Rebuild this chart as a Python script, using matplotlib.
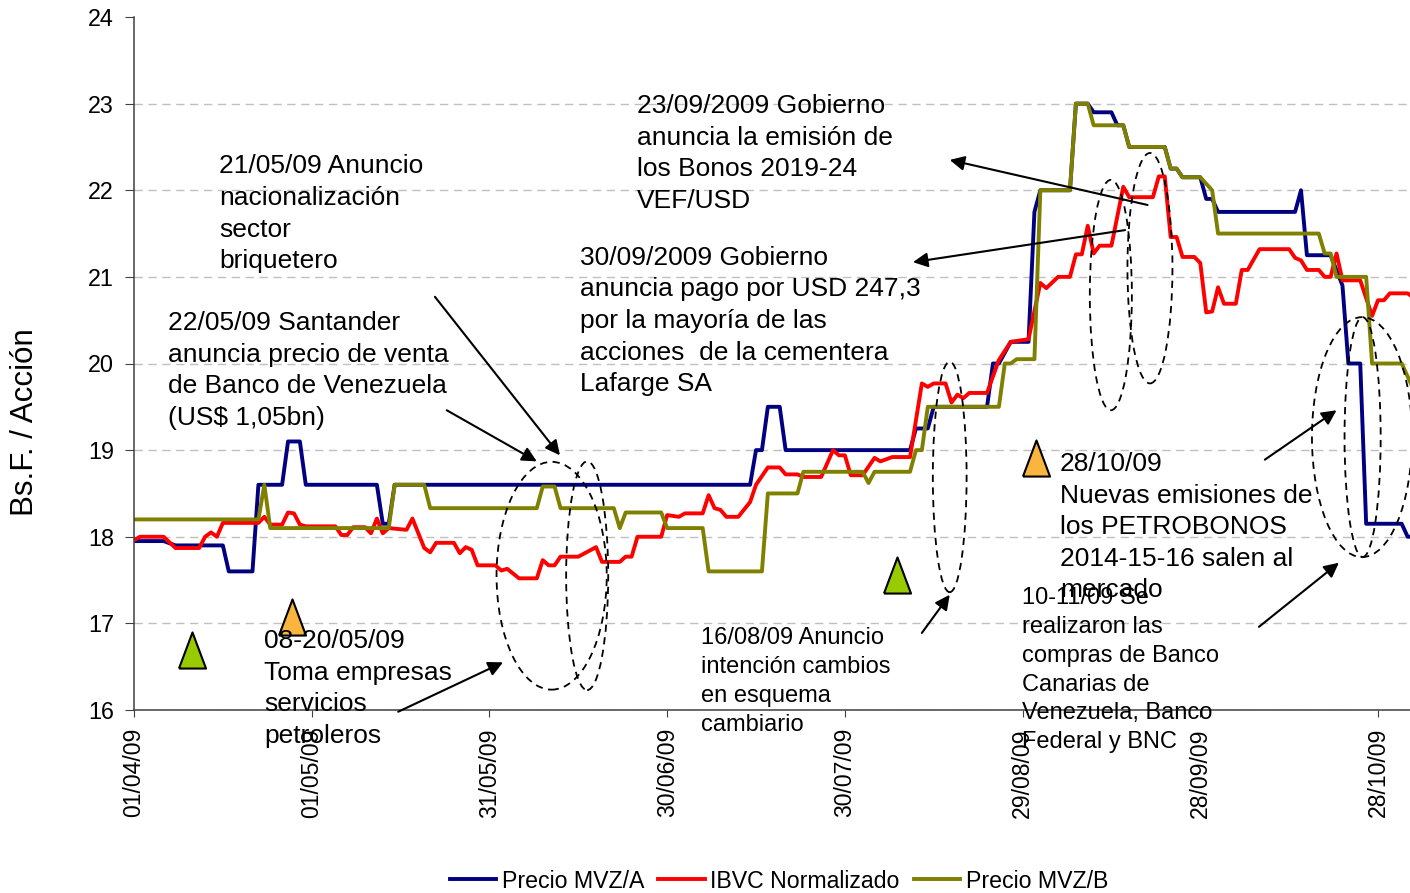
import numpy as np
import pandas as pd
import matplotlib
matplotlib.use("Agg")
import matplotlib.pyplot as plt
import matplotlib.dates as mdates
from matplotlib.patches import Ellipse

plt.rcParams['font.family'] = ['Liberation Sans', 'DejaVu Sans']

# Precio MVZ/A (Bs.F. por acción)
fechas_a = ["2009-04-01", "2009-04-06", "2009-04-08", "2009-04-16", "2009-04-17", "2009-04-21",
            "2009-04-22", "2009-04-26", "2009-04-27", "2009-04-29", "2009-04-30", "2009-05-12",
            "2009-05-13", "2009-05-14", "2009-05-15", "2009-07-14", "2009-07-15", "2009-07-16",
            "2009-07-17", "2009-07-19", "2009-07-20", "2009-08-10", "2009-08-11", "2009-08-13",
            "2009-08-14", "2009-08-23", "2009-08-24", "2009-08-25", "2009-08-27", "2009-08-30",
            "2009-08-31", "2009-09-01", "2009-09-06", "2009-09-07", "2009-09-09", "2009-09-10",
            "2009-09-13", "2009-09-14", "2009-09-15", "2009-09-16", "2009-09-22", "2009-09-23",
            "2009-09-24", "2009-09-25", "2009-09-28", "2009-09-29", "2009-09-30", "2009-10-01",
            "2009-10-14", "2009-10-15", "2009-10-16", "2009-10-20", "2009-10-22", "2009-10-23",
            "2009-10-25", "2009-10-26", "2009-11-01", "2009-11-02", "2009-11-03"]
precio_a = [17.95, 17.95, 17.9, 17.9, 17.6, 17.6,
            18.6, 18.6, 19.1, 19.1, 18.6, 18.6,
            18.15, 18.15, 18.6, 18.6, 19.0, 19.0,
            19.5, 19.5, 19.0, 19.0, 19.25, 19.25,
            19.5, 19.5, 20.0, 20.0, 20.25, 20.25,
            21.75, 22.0, 22.0, 23.0, 23.0, 22.9,
            22.9, 22.75, 22.75, 22.5, 22.5, 22.25,
            22.25, 22.15, 22.15, 21.9, 21.9, 21.75,
            21.75, 22.0, 21.25, 21.25, 20.9, 20.0,
            20.0, 18.15, 18.15, 18.0, 18.0]

# IBVC normalizado
fechas_ibvc = ["2009-04-01", "2009-04-02", "2009-04-06", "2009-04-08", "2009-04-12", "2009-04-13",
               "2009-04-14", "2009-04-15", "2009-04-16", "2009-04-22", "2009-04-23", "2009-04-24",
               "2009-04-26", "2009-04-27", "2009-04-28", "2009-04-29", "2009-04-30", "2009-05-05",
               "2009-05-06", "2009-05-07", "2009-05-08", "2009-05-10", "2009-05-11", "2009-05-12",
               "2009-05-13", "2009-05-14", "2009-05-17", "2009-05-18", "2009-05-20", "2009-05-21",
               "2009-05-22", "2009-05-25", "2009-05-26", "2009-05-27", "2009-05-28", "2009-05-29",
               "2009-06-01", "2009-06-02", "2009-06-03", "2009-06-05", "2009-06-08", "2009-06-09",
               "2009-06-10", "2009-06-11", "2009-06-12", "2009-06-15", "2009-06-18", "2009-06-19",
               "2009-06-22", "2009-06-23", "2009-06-24", "2009-06-25", "2009-06-29", "2009-06-30",
               "2009-07-02", "2009-07-03", "2009-07-06", "2009-07-07", "2009-07-08", "2009-07-09",
               "2009-07-10", "2009-07-12", "2009-07-14", "2009-07-15", "2009-07-17", "2009-07-19",
               "2009-07-20", "2009-07-22", "2009-07-23", "2009-07-26", "2009-07-28", "2009-07-29",
               "2009-07-30", "2009-07-31", "2009-08-02", "2009-08-04", "2009-08-05", "2009-08-07",
               "2009-08-10", "2009-08-12", "2009-08-13", "2009-08-14", "2009-08-16", "2009-08-17",
               "2009-08-18", "2009-08-19", "2009-08-20", "2009-08-23", "2009-08-25", "2009-08-27",
               "2009-08-30", "2009-09-01", "2009-09-02", "2009-09-04", "2009-09-06", "2009-09-07",
               "2009-09-08", "2009-09-09", "2009-09-10", "2009-09-11", "2009-09-13", "2009-09-15",
               "2009-09-16", "2009-09-20", "2009-09-21", "2009-09-22", "2009-09-23", "2009-09-24",
               "2009-09-25", "2009-09-27", "2009-09-28", "2009-09-29", "2009-09-30", "2009-10-01",
               "2009-10-02", "2009-10-04", "2009-10-05", "2009-10-06", "2009-10-08", "2009-10-13",
               "2009-10-14", "2009-10-15", "2009-10-16", "2009-10-18", "2009-10-19", "2009-10-20",
               "2009-10-21", "2009-10-22", "2009-10-25", "2009-10-27", "2009-10-28", "2009-10-29",
               "2009-10-30", "2009-11-02", "2009-11-03"]
ibvc = [17.96, 18.0, 18.0, 17.87, 17.87, 18.0,
        18.05, 18.0, 18.16, 18.16, 18.23, 18.14,
        18.14, 18.28, 18.27, 18.14, 18.12, 18.12,
        18.02, 18.02, 18.11, 18.11, 18.04, 18.21,
        18.04, 18.1, 18.08, 18.21, 17.87, 17.82,
        17.93, 17.93, 17.81, 17.88, 17.85, 17.67,
        17.67, 17.61, 17.63, 17.52, 17.52, 17.73,
        17.67, 17.67, 17.77, 17.77, 17.88, 17.71,
        17.71, 17.77, 17.77, 18.0, 18.0, 18.25,
        18.23, 18.27, 18.27, 18.48, 18.33, 18.31,
        18.23, 18.23, 18.4, 18.6, 18.8, 18.8,
        18.72, 18.72, 18.69, 18.69, 19.0, 18.94,
        18.94, 18.71, 18.71, 18.91, 18.87, 18.92,
        18.92, 19.77, 19.73, 19.77, 19.77, 19.55,
        19.64, 19.6, 19.66, 19.66, 20.04, 20.25,
        20.28, 20.93, 20.87, 21.0, 21.0, 21.26,
        21.26, 21.59, 21.27, 21.36, 21.36, 22.04,
        21.92, 21.92, 22.16, 22.16, 21.46, 21.46,
        21.23, 21.23, 21.16, 20.59, 20.6, 20.88,
        20.69, 20.69, 21.08, 21.08, 21.32, 21.32,
        21.22, 21.19, 21.08, 21.08, 21.0, 21.0,
        21.27, 20.96, 20.96, 20.55, 20.73, 20.73,
        20.81, 20.81, 20.76]

# Precio MVZ/B
fechas_b = ["2009-04-01", "2009-04-22", "2009-04-23", "2009-04-24", "2009-05-14", "2009-05-15",
            "2009-05-20", "2009-05-21", "2009-06-08", "2009-06-09", "2009-06-11", "2009-06-12",
            "2009-06-21", "2009-06-22", "2009-06-23", "2009-06-29", "2009-06-30", "2009-07-06",
            "2009-07-07", "2009-07-16", "2009-07-17", "2009-07-22", "2009-07-23", "2009-08-02",
            "2009-08-03", "2009-08-04", "2009-08-10", "2009-08-11", "2009-08-12", "2009-08-13",
            "2009-08-25", "2009-08-26", "2009-08-27", "2009-08-28", "2009-08-31", "2009-09-01",
            "2009-09-06", "2009-09-07", "2009-09-09", "2009-09-10", "2009-09-15", "2009-09-16",
            "2009-09-22", "2009-09-23", "2009-09-24", "2009-09-25", "2009-09-28", "2009-09-30",
            "2009-10-01", "2009-10-18", "2009-10-19", "2009-10-20", "2009-10-21", "2009-10-26",
            "2009-10-27", "2009-11-01", "2009-11-03"]
precio_b = [18.2, 18.2, 18.6, 18.1, 18.1, 18.6,
            18.6, 18.33, 18.33, 18.58, 18.58, 18.33,
            18.33, 18.1, 18.28, 18.28, 18.1, 18.1,
            17.6, 17.6, 18.5, 18.5, 18.75, 18.75,
            18.62, 18.75, 18.75, 19.0, 19.0, 19.5,
            19.5, 20.0, 20.0, 20.05, 20.05, 22.0,
            22.0, 23.0, 23.0, 22.75, 22.75, 22.5,
            22.5, 22.25, 22.25, 22.15, 22.15, 22.0,
            21.5, 21.5, 21.27, 21.27, 21.0, 21.0,
            20.0, 20.0, 19.7]

tick_fechas = ["2009-04-01", "2009-05-01", "2009-05-31", "2009-06-30",
               "2009-07-30", "2009-08-29", "2009-09-28", "2009-10-28"]
tick_labels = ["01/04/09", "01/05/09", "31/05/09", "30/06/09",
               "30/07/09", "29/08/09", "28/09/09", "28/10/09"]

inicio = pd.Timestamp("2009-04-01")
base = mdates.date2num(inicio)


def dia(n):
    # posición en el eje x a partir de días desde el 01/04/09
    return base + n


fig = plt.figure(figsize=(14.1, 8.93), dpi=100)
ax = fig.add_axes([134 / 1410, 1 - 710 / 893, 1276 / 1410, 693 / 893])

la, = ax.plot(pd.to_datetime(fechas_a), precio_a, color='#000080', lw=2.8, label='Precio MVZ/A')
lr, = ax.plot(pd.to_datetime(fechas_ibvc), ibvc, color='#FF0000', lw=2.8, label='IBVC Normalizado')
lb, = ax.plot(pd.to_datetime(fechas_b), precio_b, color='#808000', lw=2.8, label='Precio MVZ/B')

ax.set_xlim(base, base + 215.4)
ax.set_ylim(16, 24)
ax.set_yticks(range(16, 25))
ax.set_xticks(pd.to_datetime(tick_fechas))
ax.set_xticklabels(tick_labels, rotation=90, fontsize=16.6)
ax.tick_params(axis='y', labelsize=16.8, length=6.5, pad=8, color='#404040')
ax.tick_params(axis='x', length=5, pad=8, color='#404040')

ax.grid(axis='y', color='#C0C0C0', linestyle=(0, (6, 4)), lw=1)
ax.get_ygridlines()[-1].set_visible(False)
for s in ['top', 'right']:
    ax.spines[s].set_visible(False)
for s in ['left', 'bottom']:
    ax.spines[s].set_color('#404040')
    ax.spines[s].set_linewidth(1.1)

ax.set_ylabel('Bs.F. / Acción', fontsize=22.5)
ax.yaxis.set_label_coords(-0.0737, 0.4156)

# triangulos
tri = [(-0.75, -1), (0.75, -1), (0, 1), (-0.75, -1)]
for x, y in [(9.8, 16.69), (128.8, 17.56)]:
    ax.plot(dia(x), y, marker=tri, ms=26, color='#99CC00', mec='black', mew=1.5, zorder=5, clip_on=False)
for x, y in [(26.75, 17.07), (152.2, 18.91)]:
    ax.plot(dia(x), y, marker=tri, ms=26, color='#F9B53D', mec='black', mew=1.5, zorder=5, clip_on=False)

# elipses punteadas
elipses = [(70.5, 17.55, 18.6, 2.63), (76.5, 17.55, 7.1, 2.64), (137.7, 18.69, 5.7, 2.66),
           (164.9, 20.79, 7.1, 2.66), (171.5, 21.10, 7.6, 2.66), (207.3, 19.15, 16.9, 2.77),
           (207.4, 19.15, 6.1, 2.77)]
for cx, cy, w, h in elipses:
    ax.add_patch(Ellipse((dia(cx), cy), w, h, fill=False, ec='black', lw=1.3,
                         ls=(0, (4, 3)), zorder=6, clip_on=False))

# flechas
flechas = [((50.8, 20.77), (71.9, 18.94)), ((52.8, 19.46), (68.0, 18.87)),
           ((44.6, 15.98), (62.3, 16.55)), ((171.1, 21.83), (137.7, 22.35)),
           ((167.3, 21.54), (131.5, 21.17)), ((133.0, 16.89), (137.7, 17.33)),
           ((190.9, 18.89), (203.0, 19.46)), ((189.9, 16.96), (203.4, 17.70))]
for (x0, y0), (x1, y1) in flechas:
    ax.annotate('', xy=(dia(x1), y1), xytext=(dia(x0), y0), annotation_clip=False,
                arrowprops=dict(arrowstyle='-|>', mutation_scale=22, lw=1.5, color='black',
                                shrinkA=0, shrinkB=0), zorder=7)

# textos (y = línea base de la última línea)
textos_grandes = [
    (14.35, 21.10, "21/05/09 Anuncio\nnacionalización\nsector\nbriquetero"),
    (5.74, 19.29, "22/05/09 Santander\nanuncia precio de venta\nde Banco de Venezuela\n(US$ 1,05bn)"),
    (21.94, 15.62, "08-20/05/09\nToma empresas\nservicios\npetroleros"),
    (84.9, 21.795, "23/09/2009 Gobierno\nanuncia la emisión de\nlos Bonos 2019-24\nVEF/USD"),
    (75.3, 19.68, "30/09/2009 Gobierno\nanuncia pago por USD 247,3\npor la mayoría de las\n"
                  "acciones  de la cementera\nLafarge SA"),
    (156.3, 17.30, "28/10/09\nNuevas emisiones de\nlos PETROBONOS\n2014-15-16 salen al\nmercado"),
]
for x, y, t in textos_grandes:
    ax.text(dia(x), y, t, fontsize=19, va='baseline', ha='left', linespacing=1.4, zorder=8)

textos_chicos = [
    (95.7, 15.76, "16/08/09 Anuncio\nintención cambios\nen esquema\ncambiario"),
    (149.9, 15.56, "10-11/09 Se\nrealizaron las\ncompras de Banco\nCanarias de\n"
                   "Venezuela, Banco\nFederal y BNC"),
]
for x, y, t in textos_chicos:
    ax.text(dia(x), y, t, fontsize=17, va='baseline', ha='left', linespacing=1.4, zorder=8)

fig.legend(handles=[la, lr, lb], loc='center', bbox_to_anchor=(779 / 1410, 1 - 881 / 893),
           ncol=3, frameon=False, fontsize=16.7, handlelength=2.0, handletextpad=0.25,
           columnspacing=0.6)

fig.savefig('out.png', dpi=100)
